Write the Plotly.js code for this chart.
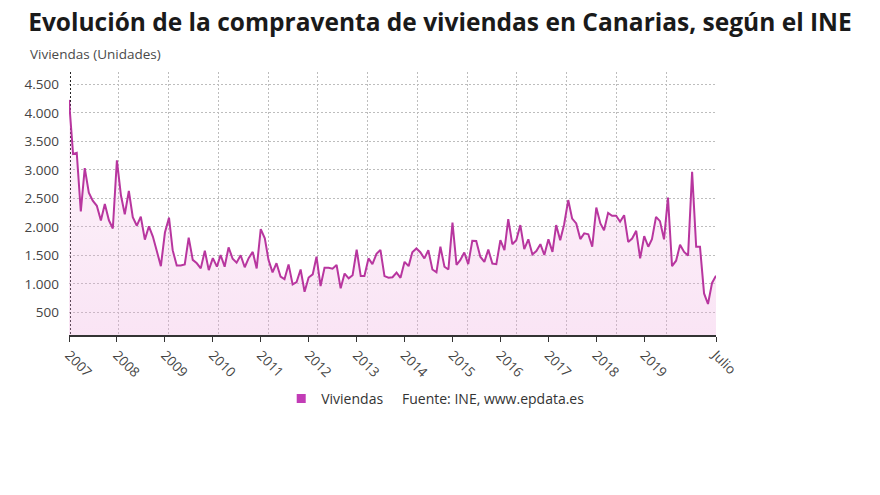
<!DOCTYPE html>
<html>
<head>
<meta charset="utf-8">
<script src="https://cdn.plot.ly/plotly-3.0.1.min.js"></script>
<style>
html,body{margin:0;padding:0;background:#fff;}
#chart{width:880px;height:495px;}
</style>
</head>
<body>
<div id="chart"></div>
<script>
// Monthly sales of homes in Canarias, Jan 2007 - Jul 2020
const startYear = 2007;
const viviendas = [
  4230, 3280, 3300, 2270, 3030, 2600, 2460, 2370, 2110, 2400, 2115, 1970,
  3170, 2550, 2220, 2630, 2170, 2020, 2180, 1775, 2010, 1830, 1565, 1310,
  1900, 2160, 1590, 1320, 1320, 1340, 1810, 1420, 1360, 1270, 1580, 1240,
  1450, 1300, 1505, 1300, 1640, 1440, 1370, 1500, 1290, 1450, 1560, 1270,
  1960, 1800, 1420, 1200, 1360, 1125, 1080, 1340, 990, 1030, 1250, 860,
  1110, 1165, 1475, 960, 1280, 1280, 1265, 1330, 920, 1180, 1095, 1150,
  1600, 1135, 1135, 1445, 1345, 1525, 1595, 1135, 1105, 1115, 1195, 1105,
  1385, 1310, 1555, 1620, 1555, 1445, 1590, 1250, 1200, 1650, 1300, 1250,
  2075, 1330, 1415, 1550, 1345, 1755, 1750, 1475, 1385, 1600, 1355, 1345,
  1765, 1590, 2135, 1695, 1765, 2030, 1610, 1780, 1515, 1575, 1695, 1505,
  1780, 1560, 2030, 1765, 2045, 2470, 2145, 2060, 1785, 1885, 1870, 1650,
  2340, 2060, 1940, 2245, 2195, 2195, 2090, 2205, 1735, 1795, 1930, 1445,
  1835, 1650, 1785, 2175, 2100, 1780, 2515, 1310, 1405, 1685, 1560, 1495,
  2965, 1650, 1650, 830, 645, 1015, 1140
];
const tickDates = ['2007-01-01','2008-01-01','2009-01-01','2010-01-01','2011-01-01','2012-01-01','2013-01-01',
  '2014-01-01','2015-01-01','2016-01-01','2017-01-01','2018-01-01','2019-01-01','2020-07-01'];
const tickLabels = ['2007','2008','2009','2010','2011','2012','2013','2014','2015','2016','2017','2018','2019','Julio'];
const yTicks = [500, 1000, 1500, 2000, 2500, 3000, 3500, 4000, 4500];

// month dates for the x axis
const months = viviendas.map((v, i) => {
  const y = startYear + Math.floor(i / 12);
  const m = (i % 12) + 1;
  return y + '-' + String(m).padStart(2, '0') + '-01';
});

const lineColor = '#b8369f';
const font = 'Open Sans, Noto Sans, sans-serif';
const gridDash = '1.5px,2.5px';

const traces = [
  {
    x: months, y: viviendas, type: 'scatter', mode: 'lines',
    line: {color: lineColor, width: 2},
    fill: 'tozeroy',
    fillgradient: {type: 'vertical', start: 0, stop: 4500,
      colorscale: [[0, 'rgba(238,170,222,0.32)'], [1, 'rgba(238,170,222,0.10)']]},
    fillcolor: 'rgba(238,170,222,0.2)',
    showlegend: false, hoverinfo: 'x+y'
  },
  {
    x: [months[0]], y: [null], type: 'scatter', mode: 'markers', name: 'Viviendas',
    marker: {symbol: 'square', size: 9, color: '#c23cb6'}, showlegend: true
  },
  {x: [0], y: [null], xaxis: 'x2', type: 'scatter', mode: 'markers', showlegend: false, hoverinfo: 'skip'},
  {x: [0], y: [null], xaxis: 'x3', type: 'scatter', mode: 'markers', showlegend: false, hoverinfo: 'skip'}
];

const layout = {
  width: 880, height: 495,
  margin: {l: 69, r: 164, t: 72, b: 160},
  paper_bgcolor: '#fff', plot_bgcolor: '#fff',
  separators: ',.',
  font: {family: font, size: 13, color: '#444'},
  title: {
    text: '<b>Evolución de la compraventa de viviendas en Canarias, según el INE</b>',
    font: {family: font, size: 24.5, color: '#1a1a1a'},
    x: 0.032, xanchor: 'left', xref: 'container', y: 0.955, yanchor: 'middle', yref: 'container'
  },
  xaxis: {
    type: 'date', range: [months[0], months[months.length - 1]],
    tickvals: tickDates, ticktext: tickLabels, tickangle: 45,
    showgrid: false, zeroline: false,
    showline: true, linecolor: '#333', linewidth: 2,
    ticks: 'outside', ticklen: 5, tickcolor: '#333', tickwidth: 1,
    tickfont: {family: font, size: 13.5, color: '#444'}
  },
  xaxis2: {
    overlaying: 'x', anchor: 'y', range: [0, 13], tick0: 0, dtick: 1,
    showgrid: true, gridcolor: '#bdbdbd', griddash: gridDash, gridwidth: 1,
    showticklabels: false, ticks: '', zeroline: false, showline: false
  },
  xaxis3: {
    overlaying: 'x', anchor: 'y', range: [-0.002, 1], tickvals: [0],
    showgrid: true, gridcolor: '#222', griddash: gridDash, gridwidth: 1.5,
    showticklabels: false, ticks: '', zeroline: false, showline: false
  },
  yaxis: {
    range: [100, 4720], tickvals: yTicks, tickformat: ',d',
    showgrid: true, gridcolor: '#bdbdbd', griddash: gridDash, gridwidth: 1,
    zeroline: false, showline: false, ticks: '', ticklabelstandoff: 9,
    tickfont: {family: font, size: 13.5, color: '#444'}
  },
  legend: {
    orientation: 'h', x: 0.328, xanchor: 'left', y: -0.243, yanchor: 'middle',
    font: {family: font, size: 14, color: '#333'}, bgcolor: 'rgba(0,0,0,0)'
  },
  annotations: [
    {text: 'Viviendas (Unidades)', xref: 'paper', yref: 'paper', x: -0.0634, y: 1.068,
     xanchor: 'left', yanchor: 'middle', showarrow: false,
     font: {family: font, size: 13.5, color: '#4a4a4a'}},
    {text: 'Fuente: INE, www.epdata.es', xref: 'paper', yref: 'paper', x: 0.5116, y: -0.2433,
     xanchor: 'left', yanchor: 'middle', showarrow: false,
     font: {family: font, size: 14, color: '#333'}}
  ]
};

Plotly.newPlot('chart', traces, layout, {displayModeBar: false, staticPlot: true});
</script>
</body>
</html>
